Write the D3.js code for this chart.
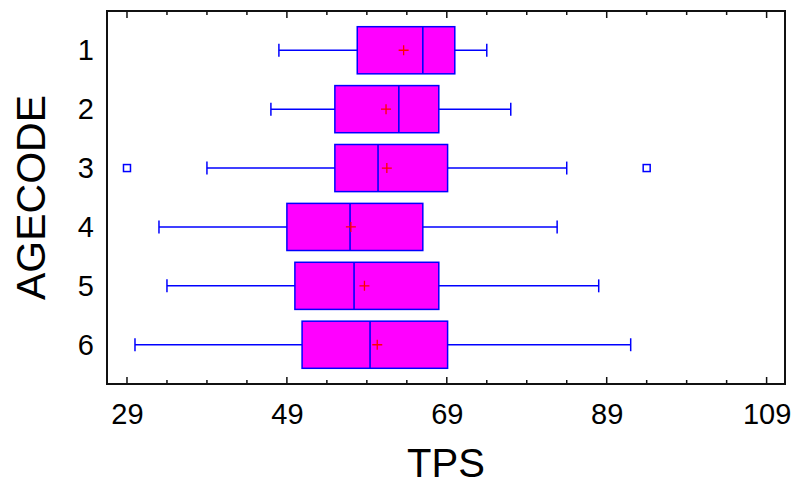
<!DOCTYPE html>
<html>
<head>
<meta charset="utf-8">
<script src="https://cdn.jsdelivr.net/npm/d3@7/dist/d3.min.js"></script>
<style>
  html, body { margin: 0; padding: 0; background: #fff; }
  svg { display: block; font-family: "Liberation Sans", Arial, sans-serif; }
</style>
</head>
<body>
<svg id="chart" width="793" height="486"></svg>
<script>
// Box-and-whisker summary of TPS by AGECODE
const categories  = ["1", "2", "3", "4", "5", "6"];
const whiskerLow  = [48, 47, 39, 33, 34, 30];
const q1          = [57.8, 55, 55, 49, 50, 50.9];
const median      = [66, 63, 60.4, 56.9, 57.4, 59.4];
const q3          = [70, 68, 69.1, 66, 68, 69.1];
const whiskerHigh = [74, 77, 84, 82.8, 88, 92];
const means       = [63.6, 61.4, 61.5, 57.0, 58.7, 60.3];
const outliers    = [[], [], [29, 94], [], [], []];
const xTickLabels = [29, 49, 69, 89, 109];
const xMinorStep  = 5;

const rows = categories.map((c, i) => ({
  cat: c, idx: i + 1,
  lo: whiskerLow[i], q1: q1[i], med: median[i], q3: q3[i], hi: whiskerHigh[i],
  mean: means[i], out: outliers[i]
}));

const svg = d3.select("#chart");
const plot = { left: 107, right: 785, top: 11, bottom: 384 };

const x = d3.scaleLinear().domain([26.5, 111.3]).range([plot.left, plot.right]);
const y = d3.scaleLinear().domain([1 / 3, 6 + 2 / 3]).range([plot.top, plot.bottom]);
const boxH = (y(1.8) - y(1));   // box band is 0.8 of a row
const capH = (y(1.22) - y(1));

const blue = "#0000ff", magenta = "#ff00ff", red = "#ff0000";

// tick positions: minor every 5 units, majors labelled
const allTicks = d3.range(29, 109 + 0.001, xMinorStep);
const isMajor = v => xTickLabels.includes(v);

// bottom axis (ticks point inward)
const xAxisBottom = d3.axisBottom(x).tickValues(xTickLabels).tickSize(0).tickPadding(0).tickFormat(d3.format("d"));
const gxb = svg.append("g").attr("transform", `translate(0,${plot.bottom})`).call(xAxisBottom);
gxb.select(".domain").remove();
gxb.selectAll(".tick text")
  .attr("y", 40).attr("dy", 0)
  .style("font-size", "29px").style("fill", "#000")
  .attr("font-family", "Liberation Sans, Arial, sans-serif");

const tickG = svg.append("g").attr("stroke", "#111").attr("stroke-width", 1.5);
allTicks.forEach(v => {
  const len = isMajor(v) ? 7 : 4;
  tickG.append("line").attr("x1", x(v)).attr("x2", x(v))
    .attr("y1", plot.bottom).attr("y2", plot.bottom - len);
  tickG.append("line").attr("x1", x(v)).attr("x2", x(v))
    .attr("y1", plot.top).attr("y2", plot.top + len);
});

// left axis: category labels only
const yAxis = d3.axisLeft(y).tickValues(rows.map(r => r.idx)).tickSize(0).tickPadding(13)
  .tickFormat((d, i) => categories[i]);
const gy = svg.append("g").attr("transform", `translate(${plot.left},0)`).call(yAxis);
gy.select(".domain").remove();
gy.selectAll(".tick text")
  .style("font-size", "29px").style("fill", "#000")
  .attr("font-family", "Liberation Sans, Arial, sans-serif");

// boxes
const g = svg.append("g");
rows.forEach(r => {
  const cy = y(r.idx);
  // whiskers
  g.append("line").attr("x1", x(r.lo)).attr("x2", x(r.q1)).attr("y1", cy).attr("y2", cy)
    .attr("stroke", blue).attr("stroke-width", 1.5);
  g.append("line").attr("x1", x(r.q3)).attr("x2", x(r.hi)).attr("y1", cy).attr("y2", cy)
    .attr("stroke", blue).attr("stroke-width", 1.5);
  [r.lo, r.hi].forEach(v => {
    g.append("line").attr("x1", x(v)).attr("x2", x(v))
      .attr("y1", cy - capH / 2).attr("y2", cy + capH / 2)
      .attr("stroke", blue).attr("stroke-width", 1.5);
  });
  // box
  g.append("rect").attr("x", x(r.q1)).attr("y", cy - boxH / 2)
    .attr("width", x(r.q3) - x(r.q1)).attr("height", boxH)
    .attr("fill", magenta).attr("stroke", blue).attr("stroke-width", 1.5);
  // median
  g.append("line").attr("x1", x(r.med)).attr("x2", x(r.med))
    .attr("y1", cy - boxH / 2).attr("y2", cy + boxH / 2)
    .attr("stroke", blue).attr("stroke-width", 1.6);
  // mean marker
  const mx = x(r.mean);
  g.append("path").attr("d", `M${mx - 5},${cy}H${mx + 5}M${mx},${cy - 5}V${cy + 5}`)
    .attr("stroke", red).attr("stroke-width", 1.3).attr("fill", "none");
  // outliers
  r.out.forEach(v => {
    g.append("rect").attr("x", x(v) - 3.5).attr("y", cy - 3.5)
      .attr("width", 7).attr("height", 7)
      .attr("fill", "#fff").attr("stroke", blue).attr("stroke-width", 1.5);
  });
});

// frame
svg.append("rect").attr("x", plot.left).attr("y", plot.top)
  .attr("width", plot.right - plot.left).attr("height", plot.bottom - plot.top)
  .attr("fill", "none").attr("stroke", "#111").attr("stroke-width", 2);

// axis titles
svg.append("text").attr("x", (plot.left + plot.right) / 2).attr("y", 477)
  .attr("text-anchor", "middle").style("font-size", "40px").text("TPS");
svg.append("text")
  .attr("transform", `translate(45,${(plot.top + plot.bottom) / 2}) rotate(-90)`)
  .attr("text-anchor", "middle").style("font-size", "41px").text("AGECODE");
</script>
</body>
</html>
